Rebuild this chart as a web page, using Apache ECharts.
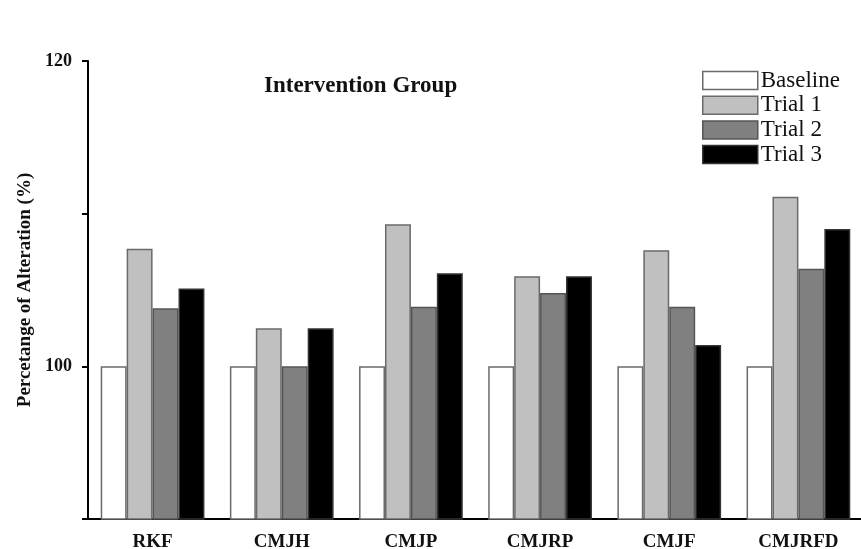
<!DOCTYPE html>
<html><head><meta charset="utf-8">
<script src="https://cdn.jsdelivr.net/npm/echarts@6/dist/echarts.min.js"></script>
<style>html,body{margin:0;padding:0;background:#fff}#c{width:861px;height:549px}</style>
</head><body><div id="c"></div>
<script>
const categories = ['RKF', 'CMJH', 'CMJP', 'CMJRP', 'CMJF', 'CMJRFD'];
const seriesNames = ['Baseline', 'Trial 1', 'Trial 2', 'Trial 3'];
const baseline = [100, 100, 100, 100, 100, 100];
const trial1 = [107.7, 102.5, 109.3, 105.9, 107.6, 111.1];
const trial2 = [103.8, 100.0, 103.9, 104.8, 103.9, 106.4];
const trial3 = [105.1, 102.5, 106.1, 105.9, 101.4, 109.0];
const yLabels = [100, 120];

const colors = ['#ffffff', '#c0c0c0', '#808080', '#000000'];
const borders = ['#6a6a6a', '#6a6a6a', '#555555', '#333333'];
const serif = '"Liberation Serif", "DejaVu Serif", serif';
const allData = [baseline, trial1, trial2, trial3];

const chart = echarts.init(document.getElementById('c'), null, {renderer: 'canvas'});
chart.setOption({
  animation: false,
  backgroundColor: '#fff',
  title: {
    text: 'Intervention Group', left: 259, top: 70,
    textStyle: {fontFamily: serif, fontWeight: 'bold', fontSize: 23, color: '#111'}
  },
  legend: {
    orient: 'vertical', left: 697, top: 64,
    icon: 'rect',
    itemWidth: 55, itemHeight: 18, itemGap: 1.7,
    textStyle: {fontFamily: serif, fontSize: 23, color: '#111', padding: [0, 0, 0, -2]},
    data: seriesNames.map((n, i) => ({name: n, itemStyle: {color: colors[i], borderColor: borders[i], borderWidth: 1.5}}))
  },
  grid: {left: 88, right: -2, top: 61, bottom: 30, containLabel: false, outerBoundsMode: 'none'},
  xAxis: [{
    type: 'category', data: categories,
    axisLine: {lineStyle: {color: '#000', width: 2}},
    axisTick: {alignWithLabel: true, length: 8, lineStyle: {color: '#000', width: 2}},
    axisLabel: {fontFamily: serif, fontWeight: 'bold', fontSize: 19, color: '#111', margin: 14}
  }, {
    type: 'category', data: categories, position: 'bottom',
    axisLine: {show: false},
    axisTick: {length: 4, lineStyle: {color: '#000', width: 2}},
    axisLabel: {show: false}
  }],
  yAxis: {
    type: 'value', min: 90, max: 120, interval: 10,
    name: 'Percetange of Alteration (%)', nameLocation: 'middle', nameGap: 52, nameRotate: 90,
    nameTextStyle: {fontFamily: serif, fontWeight: 'bold', fontSize: 19, color: '#111'},
    axisLine: {show: true, lineStyle: {color: '#000', width: 2}},
    axisTick: {show: true, length: 6, lineStyle: {color: '#000', width: 2}},
    splitLine: {show: false},
    axisLabel: {
      fontFamily: serif, fontWeight: 'bold', fontSize: 18, color: '#111', margin: 16,
      formatter: v => yLabels.includes(v) ? String(v) : ''
    }
  },
  series: allData.map((d, i) => ({
    name: seriesNames[i], type: 'bar', data: d, xAxisIndex: 0,
    barGap: '0%', barCategoryGap: '19.7%',
    itemStyle: {color: colors[i], borderColor: borders[i], borderWidth: 1.5}
  }))
});
</script></body></html>
